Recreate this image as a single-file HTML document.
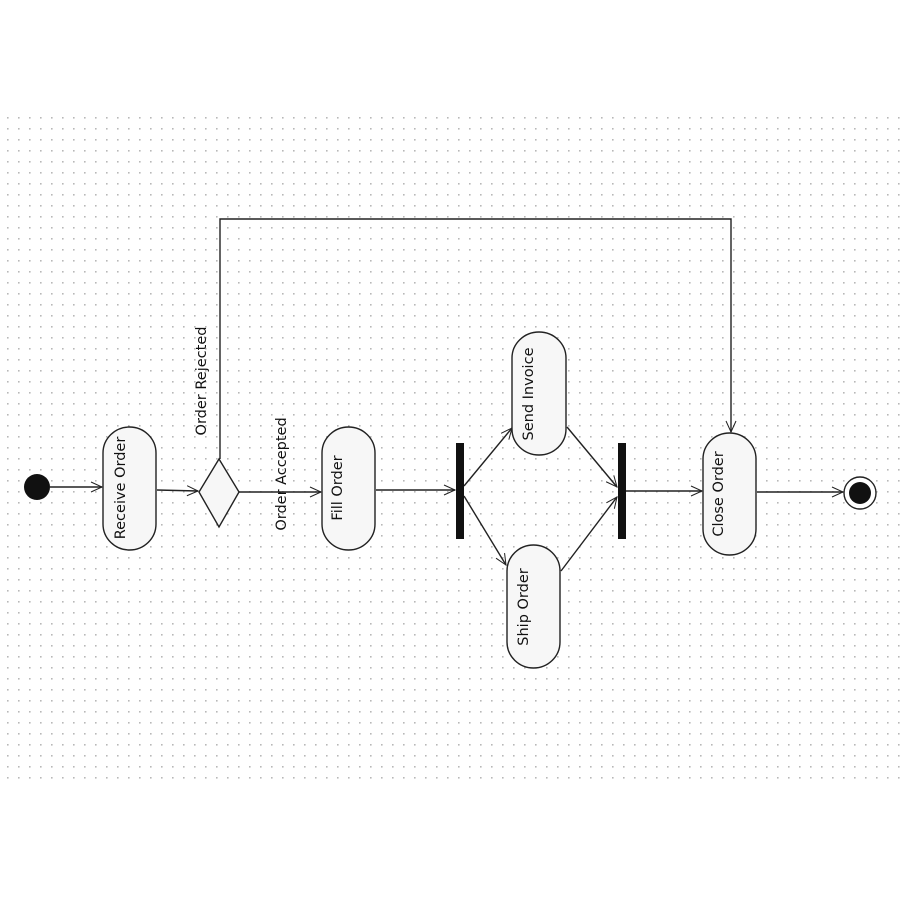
<!DOCTYPE html>
<html><head><meta charset="utf-8"><style>
html,body{margin:0;padding:0;background:#fff;}
svg{display:block}
text{font-family:"DejaVu Sans","Liberation Sans",sans-serif;font-size:14.5px;fill:#111}
</style></head><body>
<svg width="900" height="900" viewBox="0 0 900 900" xmlns="http://www.w3.org/2000/svg">
<defs>
<pattern id="g" x="2" y="2" width="11" height="11" patternUnits="userSpaceOnUse">
<rect x="5" y="5" width="1.6" height="1.6" fill="#b8b8b8"/>
</pattern>
<marker id="a" markerWidth="14" markerHeight="12" refX="12" refY="6" orient="auto" markerUnits="userSpaceOnUse">
<path d="M1,1 L12,6 L1,11" fill="none" stroke="#222" stroke-width="1"/>
</marker>
</defs>
<rect x="0" y="110" width="900" height="678" fill="url(#g)"/>
<g stroke="#222" stroke-width="1.4" fill="none">
<line x1="50" y1="487" x2="102" y2="487" marker-end="url(#a)"/>
<line x1="157" y1="490" x2="198" y2="491" marker-end="url(#a)"/>
<line x1="239" y1="492" x2="321" y2="492" marker-end="url(#a)"/>
<line x1="376" y1="490" x2="455" y2="490" marker-end="url(#a)"/>
<line x1="464" y1="486" x2="512" y2="428" marker-end="url(#a)"/>
<line x1="464" y1="496" x2="506" y2="565" marker-end="url(#a)"/>
<line x1="567" y1="427" x2="617" y2="487" marker-end="url(#a)"/>
<line x1="561" y1="571" x2="617" y2="497" marker-end="url(#a)"/>
<line x1="626" y1="491" x2="702" y2="491" marker-end="url(#a)"/>
<line x1="757" y1="492" x2="843" y2="492" marker-end="url(#a)"/>
<polyline points="220,459 220,219 731,219 731,432" marker-end="url(#a)"/>
</g>
<circle cx="37" cy="487" r="13" fill="#111"/>
<circle cx="860" cy="493" r="16" fill="#fff" stroke="#222" stroke-width="1.4"/>
<circle cx="860" cy="493" r="11" fill="#111"/>
<polygon points="219,459 239,492 219,527 199,492" fill="#f7f7f7" stroke="#222" stroke-width="1.4"/>
<g fill="#f7f7f7" stroke="#222" stroke-width="1.4">
<rect x="103" y="427" width="53" height="123" rx="26.5" ry="26"/>
<rect x="322" y="427" width="53" height="123" rx="26.5" ry="26"/>
<rect x="512" y="332" width="54" height="123" rx="27" ry="26"/>
<rect x="507" y="545" width="53" height="123" rx="26.5" ry="26"/>
<rect x="703" y="433" width="53" height="122" rx="26.5" ry="26"/>
</g>
<rect x="456" y="443" width="8" height="96" fill="#111"/>
<rect x="618" y="443" width="8" height="96" fill="#111"/>
<g text-anchor="middle">
<text transform="translate(120,488) rotate(-90)" dy="5">Receive Order</text>
<text transform="translate(337,488) rotate(-90)" dy="5">Fill Order</text>
<text transform="translate(528,394) rotate(-90)" dy="5">Send Invoice</text>
<text transform="translate(523,607) rotate(-90)" dy="5">Ship Order</text>
<text transform="translate(718,494) rotate(-90)" dy="5">Close Order</text>
<text transform="translate(201,381) rotate(-90)" dy="5">Order Rejected</text>
<text transform="translate(281,474) rotate(-90)" dy="5">Order Accepted</text>
</g>
</svg>
</body></html>
